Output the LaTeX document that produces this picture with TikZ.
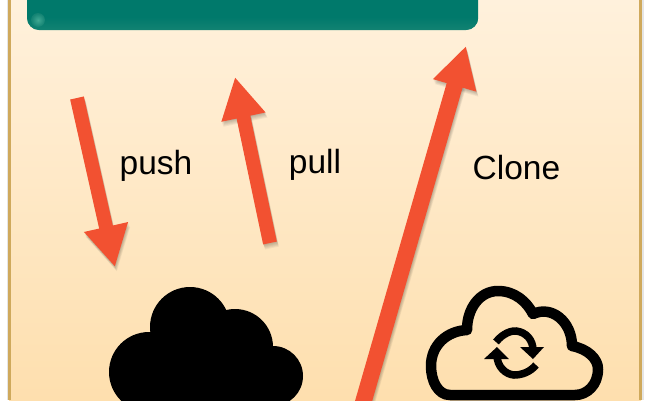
\documentclass[tikz,border=0pt]{standalone}
\usepackage{fontspec}
\setmainfont{Liberation Sans}
\usetikzlibrary{arrows.meta,shadings}
\definecolor{arrowred}{HTML}{F25131}
\definecolor{panelTop}{HTML}{FFF1DC}
\definecolor{panelBot}{HTML}{FEDFAE}
\definecolor{goldline}{HTML}{CFA95C}
\definecolor{tealdark}{HTML}{00796B}
\definecolor{teallight}{HTML}{128272}
\definecolor{tealspot}{HTML}{3FA893}
\tikzset{
  lbl/.style={font=\fontsize{33.5}{36}\selectfont, text=black, inner sep=0pt, anchor=base},
  redarrow/.style={draw=arrowred, line width=#1, -{Triangle[length=41pt,width=42pt,fill=arrowred]}},
  shadowarrow/.style={draw=black, opacity=0.05, line width=#1, -{Triangle[length=41pt,width=42pt]}},
  cloudline/.style={draw=black, line width=10.5pt, line join=round},
}
\newcommand{\redarr}[3]{%
  \foreach \d in {1,2,3,4,5}{
    \draw[shadowarrow=#1, transform canvas={xshift=0.4*\d pt,yshift=-\d pt}] (#2) -- (#3);
  }
  \draw[redarrow=#1] (#2) -- (#3);
}
\begin{document}
\begin{tikzpicture}[x=1pt,y=1pt,yscale=-1]
\useasboundingbox (0,0) rectangle (650,400);
\clip (0,0) rectangle (650,400);
\fill[white] (0,0) rectangle (650,400);
\fill[black!10] (7,0) rectangle (8.5,400);
\fill[black!10] (642,0) rectangle (643.5,400);
\shade[top color=panelTop, bottom color=panelBot] (9,0) rectangle (641,400);
\draw[goldline, line width=2.4pt] (9.5,0) -- (9.5,400);
\draw[goldline, line width=2.4pt] (640.5,0) -- (640.5,400);

% teal box
\node[fill=tealdark, rounded corners=12pt, minimum width=451pt, minimum height=70pt, inner sep=0pt, anchor=south west] (repo) at (27,30) {};
\begin{scope}
  \clip[rounded corners=12pt] (27,-40) rectangle (478,30);
  \shade[top color=tealdark, bottom color=teallight] (27,17) rectangle (478,30);
  \shade[inner color=tealspot, outer color=teallight] (38,20) circle (7pt);
\end{scope}

% filled cloud
\fill[black] (190,327) circle (40pt);
\fill[black] (235,347) circle (38pt);
\fill[black] (149,372) circle (40pt);
\fill[black] (273,376) circle (30pt);
\fill[black] (130,372) rectangle (285,410);
\fill[black] (170,340) rectangle (250,400);

% outline cloud
\draw[cloudline] (450,395)
  .. controls (438,395) and (431,381) .. (431,366)
  .. controls (431,345) and (447,331) .. (467,330)
  .. controls (467,308) and (480,291) .. (498,291)
  .. controls (515,291) and (527,302) .. (533,314)
  .. controls (552,305) and (572,322) .. (572,346)
  .. controls (588,349) and (598,359) .. (598,369)
  .. controls (598,385) and (587,395) .. (575,395)
  -- cycle;
% sync symbol
\draw[line width=7.5pt] (496,342) .. controls (503,333) and (512,330.5) .. (516,331)
  .. controls (526,332) and (533,340) .. (533,350);
\fill (520,347) -- (544,347) -- (533,359) -- cycle;
\draw[line width=7.5pt] (497,355) .. controls (497,367) and (506,374.5) .. (514,375)
  .. controls (522,375) and (530,372) .. (536,365);
\fill (484,359) -- (509,359) -- (497,347) -- cycle;

% arrows
\coordinate (pushA) at (77,98);
\coordinate (pushB) at (115,267);
\coordinate (pullA) at (270,243);
\coordinate (pullB) at (235,77);
\coordinate (cloneA) at (361,410);
\coordinate (cloneB) at (466,46);
\redarr{14pt}{pushA}{pushB}
\redarr{14pt}{pullA}{pullB}
\redarr{16.5pt}{cloneA}{cloneB}

% labels
\node[lbl] (push) at (156,174) {push};
\node[lbl] (pull) at (315,173) {pull};
\node[lbl] (clone) at (516.5,179) {Clone};
\end{tikzpicture}
\end{document}
